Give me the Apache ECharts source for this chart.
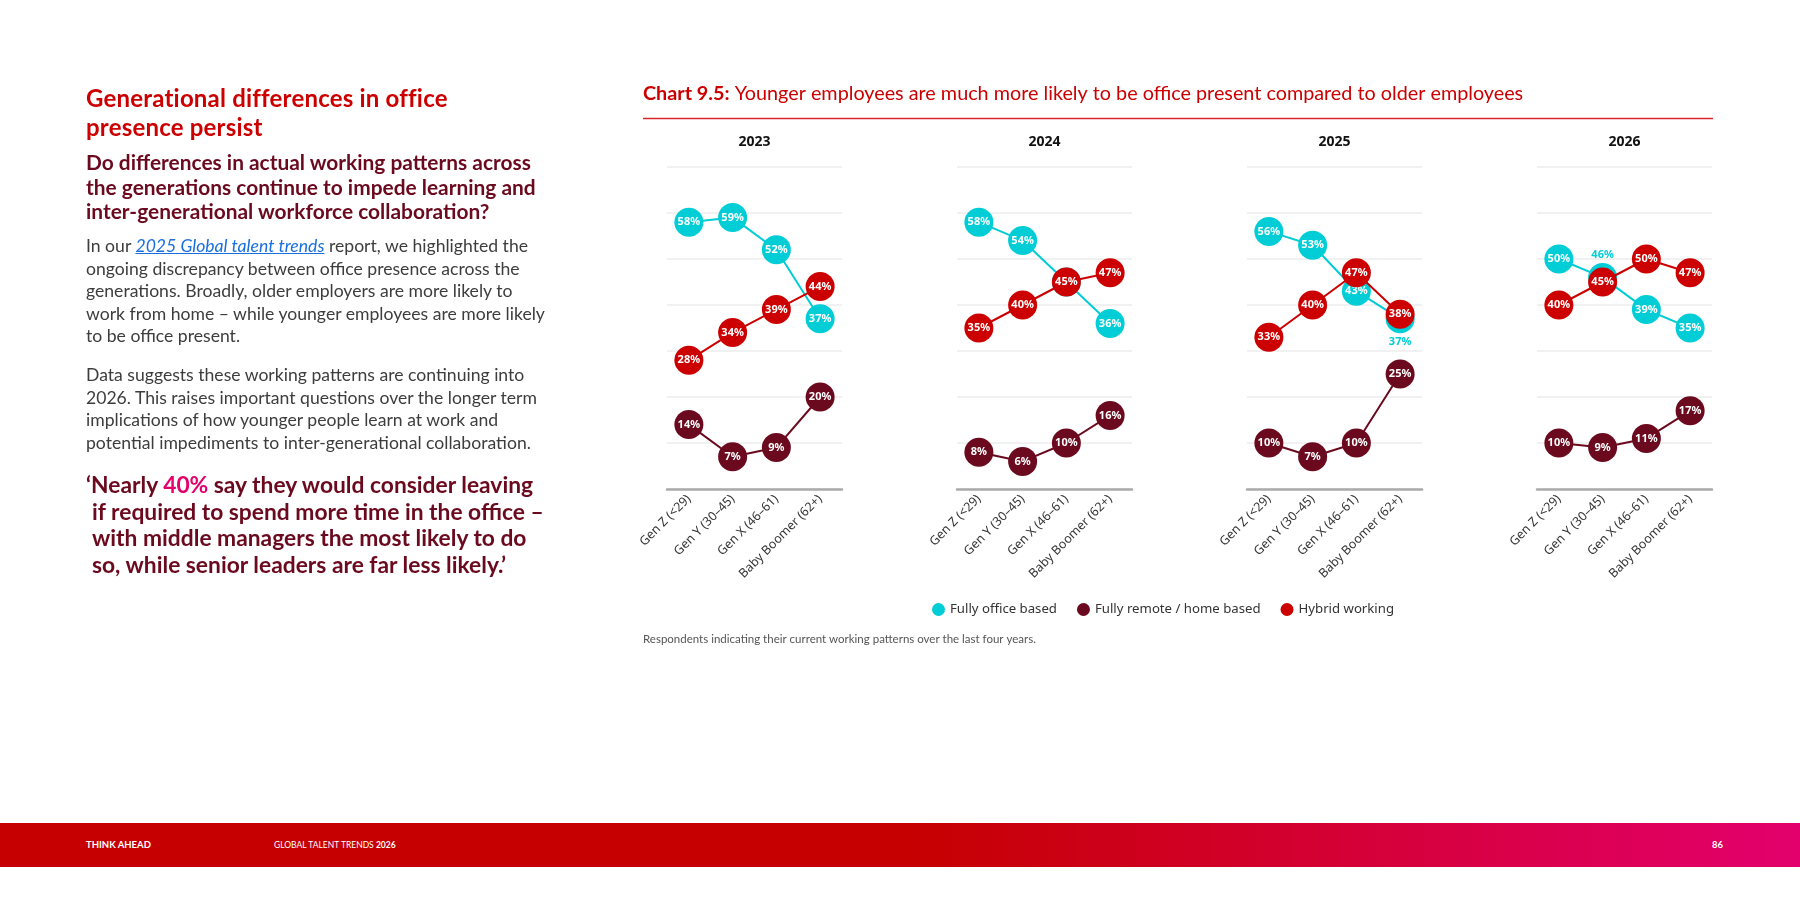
<!DOCTYPE html>
<html>
<head>
<meta charset="utf-8">
<title>Chart 9.5 - Working patterns by generation</title>
<script src="https://cdn.jsdelivr.net/npm/echarts@6/dist/echarts.min.js"></script>
<style>
  html, body { margin: 0; padding: 0; background: #fff; }
  body { width: 1800px; height: 900px; position: relative; overflow: hidden; font-family: Lato, "Open Sans", sans-serif; }
  #chart { position: absolute; left: 0; top: 0; width: 1800px; height: 900px; }
  .blk { position: absolute; left: 86px; margin: 0; white-space: nowrap; }
  .h1 { top: 83px; font-size: 24px; line-height: 29px; font-weight: 700; color: #cc0000; letter-spacing: 0.2px; }
  .h2 { top: 150px; font-size: 20.9px; line-height: 24.5px; font-weight: 700; color: #6b0a1e; }
  .p1 { top: 235px; font-size: 17.6px; line-height: 22.6px; color: #3d3d3d; }
  .p2 { top: 364px; font-size: 17.6px; line-height: 22.6px; color: #3d3d3d; }
  .p1 a { color: #1a6fe0; font-style: italic; text-decoration: underline; }
  .quote { top: 471px; font-size: 22.8px; line-height: 26.7px; font-weight: 700; color: #6b0a1e; }
  .quote .pink { color: #e5006d; }
  .quote .ind { padding-left: 6px; }
  .footer { position: absolute; left: 0; top: 823px; width: 1800px; height: 44px;
            background: linear-gradient(90deg, #c60000 0%, #c60000 50%, #e3006d 100%); color: #fff; }
  .footer span { position: absolute; top: 16px; font-size: 9.5px; line-height: 12px; }
</style>
</head>
<body>
<div id="chart"></div>

<div class="blk h1">Generational differences in office<br>presence persist</div>
<div class="blk h2">Do differences in actual working patterns across<br>the generations continue to impede learning and<br>inter-generational workforce collaboration?</div>
<div class="blk p1">In our <a>2025 Global talent trends</a> report, we highlighted the<br>ongoing discrepancy between office presence across the<br>generations. Broadly, older employers are more likely to<br>work from home – while younger employees are more likely<br>to be office present.</div>
<div class="blk p2">Data suggests these working patterns are continuing into<br>2026. This raises important questions over the longer term<br>implications of how younger people learn at work and<br>potential impediments to inter-generational collaboration.</div>
<div class="blk quote">‘Nearly <span class="pink">40%</span> say they would consider leaving<br><span class="ind">if required to spend more time in the office –</span><br><span class="ind">with middle managers the most likely to do</span><br><span class="ind">so, while senior leaders are far less likely.’</span></div>

<div class="footer">
  <span style="left:86px;font-weight:700;">THINK AHEAD</span>
  <span style="left:274px;font-size:8.5px;">GLOBAL TALENT TRENDS <b>2026</b></span>
  <span style="left:1712px;font-weight:700;">86</span>
</div>

<script>
// data
var years = ['2023', '2024', '2025', '2026'];
var categories = ['Gen Z (<29)', 'Gen Y (30–45)', 'Gen X (46–61)', 'Baby Boomer (62+)'];
var seriesNames = ['Fully office based', 'Fully remote / home based', 'Hybrid working'];

var officeBased = [
    [58, 59, 52, 37],
    [58, 54, 45, 36],
    [56, 53, 43, 37],
    [50, 46, 39, 35]
];
var remoteBased = [
    [14, 7, 9, 20],
    [8, 6, 10, 16],
    [10, 7, 10, 25],
    [10, 9, 11, 17]
];
var hybridWorking = [
    [28, 34, 39, 44],
    [35, 40, 45, 47],
    [33, 40, 47, 38],
    [40, 45, 50, 47]
];

var colors = ['#00cdd6', '#6b0a1e', '#cc0000'];
var chartFont = '"Noto Sans", "Open Sans", sans-serif';

// labels that sit outside the circle because they'd be hidden
var outsideLabels = [
    { panel: 2, series: 0, idx: 3, pos: 'bottom' },
    { panel: 3, series: 0, idx: 1, pos: 'top' }
];

var panelLeft = [667, 957, 1247, 1537];
var panelWidth = 175;
var panelTop = 167;
var panelHeight = 322;

var chart = echarts.init(document.getElementById('chart'));

var grids = [], xAxes = [], yAxes = [], series = [];
var graphics = [];

years.forEach(function (year, i) {
    grids.push({
        left: panelLeft[i], top: panelTop, width: panelWidth, height: panelHeight,
        containLabel: false
    });
    xAxes.push({
        type: 'category',
        gridIndex: i,
        data: categories,
        boundaryGap: true,
        axisLine: { lineStyle: { color: '#aaaaaa', width: 2.5 } },
        axisTick: { show: false },
        axisLabel: {
            rotate: 45, margin: 8, fontSize: 12.5, color: '#333',
            fontFamily: chartFont, interval: 0
        }
    });
    yAxes.push({
        type: 'value',
        gridIndex: i,
        min: 0, max: 70, interval: 10,
        axisLine: { show: false },
        axisTick: { show: false },
        axisLabel: { show: false },
        splitLine: { lineStyle: { color: '#ededed', width: 1.5 } }
    });

    [officeBased, remoteBased, hybridWorking].forEach(function (vals, s) {
        var data = vals[i].map(function (v, k) {
            var o = outsideLabels.filter(function (d) {
                return d.panel === i && d.series === s && d.idx === k;
            })[0];
            if (!o) return v;
            return {
                value: v,
                label: { position: o.pos, distance: 3, color: colors[s] }
            };
        });
        series.push({
            name: seriesNames[s],
            type: 'line',
            xAxisIndex: i,
            yAxisIndex: i,
            z: s === 2 ? 4 : 2,
            symbol: 'circle',
            symbolSize: 29,
            lineStyle: { color: colors[s], width: 2 },
            itemStyle: { color: colors[s] },
            label: {
                show: true,
                position: 'inside',
                color: '#fff',
                fontWeight: 'bold',
                fontSize: 11,
                fontFamily: chartFont,
                formatter: '{c}%'
            },
            emphasis: { disabled: true },
            data: data
        });
    });

    graphics.push({
        type: 'text',
        x: panelLeft[i] + panelWidth / 2,
        y: 142,
        style: {
            text: year,
            font: 'bold 14px ' + chartFont,
            fill: '#111',
            textAlign: 'center',
            textVerticalAlign: 'middle'
        }
    });
});

graphics.push({
    type: 'text',
    x: 643,
    y: 94,
    style: {
        text: '{b|Chart 9.5:} Younger employees are much more likely to be office present compared to older employees',
        font: '19.8px Lato, sans-serif',
        fill: '#cc0000',
        textVerticalAlign: 'middle',
        rich: {
            b: { font: 'bold 19.8px Lato, sans-serif', fill: '#cc0000' }
        }
    }
});
graphics.push({
    type: 'line',
    shape: { x1: 643, y1: 118.5, x2: 1713, y2: 118.5 },
    style: { stroke: '#d9262e', lineWidth: 1.5 }
});
graphics.push({
    type: 'text',
    x: 643,
    y: 639,
    style: {
        text: 'Respondents indicating their current working patterns over the last four years.',
        font: '11.5px Lato, sans-serif',
        fill: '#555',
        textVerticalAlign: 'middle'
    }
});

chart.setOption({
    animation: false,
    color: colors,
    grid: grids,
    xAxis: xAxes,
    yAxis: yAxes,
    legend: {
        data: seriesNames,
        left: 927,
        top: 598,
        icon: 'circle',
        itemWidth: 13,
        itemHeight: 13,
        itemGap: 20,
        textStyle: { fontSize: 13.2, color: '#333', fontFamily: chartFont }
    },
    graphic: graphics,
    series: series
});
</script>
</body>
</html>
